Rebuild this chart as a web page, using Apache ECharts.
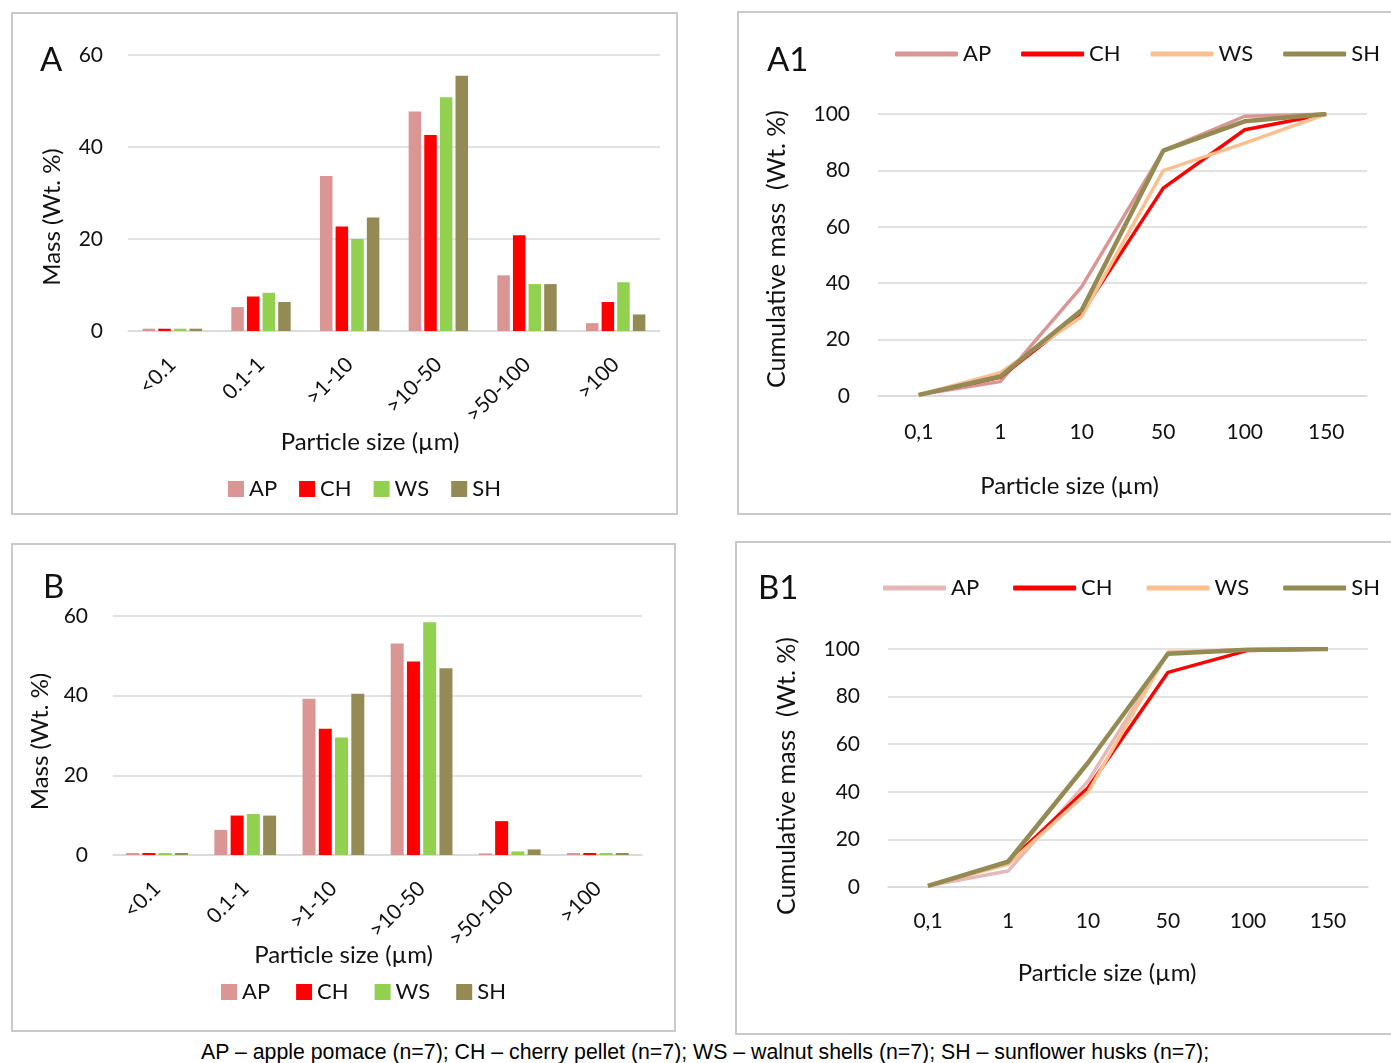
<!DOCTYPE html>
<html lang="en">
<head>
  <meta charset="utf-8">
  <style>
    html, body { margin: 0; padding: 0; width: 1391px; height: 1063px; overflow: hidden; background: #fff; }
    .panel { position: absolute; border: 2px solid #c9c9c9; background: #fff; }
    #caption { position: absolute; left: 201px; top: 1040px; font-family: "Liberation Sans", Arial, sans-serif; font-size: 21.3px; color: #000; white-space: nowrap; }
  </style>
</head>
<body>
  <div id="chartA" class="panel" style="left: 11px; top: 12px; width: 663px; height: 499px;"></div>
  <div id="chartA1" class="panel" style="left: 737px; top: 11px; width: 660px; height: 500px;"></div>
  <div id="chartB" class="panel" style="left: 11px; top: 543px; width: 661px; height: 485px;"></div>
  <div id="chartB1" class="panel" style="left: 735px; top: 541px; width: 660px; height: 490px;"></div>
  <div id="caption">AP – apple pomace (n=7); CH – cherry pellet (n=7); WS – walnut shells (n=7); SH – sunflower husks (n=7);</div>

  <script type="text/javascript" src="https://cdn.jsdelivr.net/npm/echarts@6/dist/echarts.min.js"></script>
  <script type="text/javascript">
    // size classes for the bar charts, particle sizes for the cumulative curves
    var sizeClasses = ['<0.1', '0.1-1', '>1-10', '>10-50', '>50-100', '>100'];
    var sizeTicks = ['0,1', '1', '10', '50', '100', '150'];
    var seriesNames = ['AP', 'CH', 'WS', 'SH'];

    // panel A, mass per size class (wt. %)
    var apA = [0.5, 5.2, 33.7, 47.7, 12.1, 1.7];
    var chA = [0.5, 7.5, 22.7, 42.6, 20.8, 6.3];
    var wsA = [0.5, 8.3, 20.0, 50.8, 10.2, 10.6];
    var shA = [0.5, 6.3, 24.7, 55.5, 10.2, 3.6];

    // panel B
    var apB = [0.5, 6.3, 39.2, 53.1, 0.4, 0.5];
    var chB = [0.5, 9.9, 31.7, 48.6, 8.5, 0.5];
    var wsB = [0.5, 10.3, 29.5, 58.4, 0.9, 0.5];
    var shB = [0.5, 9.9, 40.5, 46.9, 1.4, 0.5];

    // panel A1, cumulative mass (wt. %)
    var apA1 = [0.4, 5.1, 38.8, 87.0, 99.2, 100];
    var chA1 = [0.4, 6.6, 29.3, 73.7, 94.4, 100];
    var wsA1 = [0.4, 8.3, 28.2, 79.9, 89.7, 100];
    var shA1 = [0.4, 6.9, 30.5, 87.0, 97.4, 100];

    // panel B1
    var apB1 = [0.5, 6.7, 44.5, 98.6, 99.7, 100];
    var chB1 = [0.5, 10.2, 41.7, 90.2, 99.4, 100];
    var wsB1 = [0.5, 9.5, 39.9, 98.6, 99.7, 100];
    var shB1 = [0.5, 10.6, 52.2, 98.0, 99.7, 100];

    var FONT = 'Lato';
    var TXT = '#111';
    var barColors = ['#d99694', '#ff0000', '#92d050', '#948a54'];

    function barOption(p) {
      return {
        animation: false,
        textStyle: { fontFamily: FONT },
        title: { text: p.letter, left: p.letterLeft, top: p.letterTop, padding: 0,
          textStyle: { fontFamily: FONT, fontSize: 33, fontWeight: 'normal', color: TXT } },
        legend: {
          left: p.legendLeft, top: p.legendTop, itemWidth: 16, itemHeight: 16, itemGap: p.legendGap,
          icon: 'rect', data: seriesNames,
          textStyle: { fontFamily: FONT, fontSize: 22, color: TXT }
        },
        grid: p.grid,
        xAxis: {
          type: 'category', data: sizeClasses,
          name: 'Particle size (µm)', nameLocation: 'middle', nameGap: p.xNameGap,
          nameMoveOverlap: false,
          nameTextStyle: { fontFamily: FONT, fontSize: 24, color: TXT, padding: p.xNamePad },
          axisLine: { lineStyle: { color: '#d9d9d9', width: 1.5 } },
          axisTick: { show: false },
          axisLabel: { rotate: 45, margin: 30, fontFamily: FONT, fontSize: 21, color: TXT }
        },
        yAxis: {
          type: 'value', min: 0, max: 60, interval: 20,
          name: 'Mass (Wt. %)', nameLocation: 'middle', nameGap: p.yNameGap, nameRotate: 90,
          nameTextStyle: { fontFamily: FONT, fontSize: 24, color: TXT, padding: p.yNamePad },
          axisLine: { show: false }, axisTick: { show: false },
          axisLabel: { margin: 25, fontFamily: FONT, fontSize: 21, color: TXT },
          splitLine: { lineStyle: { color: '#d9d9d9', width: 1.5 } }
        },
        series: p.values.map(function (vals, i) {
          return {
            type: 'bar', name: seriesNames[i], data: vals,
            barWidth: p.barWidth, barGap: '25%',
            itemStyle: { color: barColors[i] }
          };
        })
      };
    }

    function lineOption(p) {
      return {
        animation: false,
        textStyle: { fontFamily: FONT },
        title: { text: p.letter, left: p.letterLeft, top: p.letterTop, padding: 0,
          textStyle: { fontFamily: FONT, fontSize: 33, fontWeight: 'normal', color: TXT } },
        legend: {
          left: p.legendLeft, top: p.legendTop, itemWidth: 63, itemHeight: 5, itemGap: p.legendGap,
          icon: 'roundRect', data: seriesNames,
          textStyle: { fontFamily: FONT, fontSize: 22, color: TXT }
        },
        grid: p.grid,
        xAxis: {
          type: 'category', data: sizeTicks,
          name: 'Particle size (µm)', nameLocation: 'middle', nameGap: p.xNameGap,
          nameMoveOverlap: false,
          nameTextStyle: { fontFamily: FONT, fontSize: 24, color: TXT, padding: p.xNamePad },
          axisLine: { lineStyle: { color: '#d9d9d9', width: 1.5 } },
          axisTick: { show: false },
          axisLabel: { margin: p.xLabelMargin, fontFamily: FONT, fontSize: 21, color: TXT }
        },
        yAxis: {
          type: 'value', min: 0, max: 100, interval: 20,
          name: 'Cumulative mass  (Wt. %)', nameLocation: 'middle', nameGap: p.yNameGap, nameRotate: 90,
          nameTextStyle: { fontFamily: FONT, fontSize: 25, color: TXT, padding: p.yNamePad },
          axisLine: { show: false }, axisTick: { show: false },
          axisLabel: { margin: 28, fontFamily: FONT, fontSize: 21, color: TXT },
          splitLine: { lineStyle: { color: '#d9d9d9', width: 1.5 } }
        },
        series: p.values.map(function (vals, i) {
          return {
            type: 'line', name: seriesNames[i], data: vals,
            symbol: 'none', z: i === 3 ? 5 : 2,
            lineStyle: { color: p.colors[i], width: i === 3 ? 4.5 : 3.5 },
            itemStyle: { color: p.colors[i] }
          };
        })
      };
    }

    var chartA = echarts.init(document.getElementById('chartA'));
    chartA.setOption(barOption({
      letter: 'A', letterLeft: 27, letterTop: 30,
      grid: { left: 115, top: 41, width: 532, height: 276 },
      legendLeft: 210, legendTop: 459, legendGap: 22,
      xNameGap: 99, xNamePad: [0, 48, 0, 0],
      yNameGap: 64, yNamePad: [0, 48, 0, 0],
      barWidth: 12.5,
      values: [apA, chA, wsA, shA]
    }));

    var chartB = echarts.init(document.getElementById('chartB'));
    chartB.setOption(barOption({
      letter: 'B', letterLeft: 30, letterTop: 26,
      grid: { left: 100, top: 71, width: 529, height: 239 },
      legendLeft: 203, legendTop: 431, legendGap: 26,
      xNameGap: 88, xNamePad: [0, 68, 0, 0],
      yNameGap: 57, yNamePad: [0, 12, 0, 0],
      barWidth: 13,
      values: [apB, chB, wsB, shB]
    }));

    var chartA1 = echarts.init(document.getElementById('chartA1'));
    chartA1.setOption(lineOption({
      letter: 'A1', letterLeft: 28, letterTop: 31,
      grid: { left: 139, top: 101, width: 489, height: 282 },
      legendLeft: 151, legendTop: 25, legendGap: 30,
      xNameGap: 78, xNamePad: [0, 106, 0, 0], xLabelMargin: 26,
      yNameGap: 89, yNamePad: [0, 0, 0, 12],
      colors: ['#d99694', '#ff0000', '#fac090', '#948a54'],
      values: [apA1, chA1, wsA1, shA1]
    }));

    var chartB1 = echarts.init(document.getElementById('chartB1'));
    chartB1.setOption(lineOption({
      letter: 'B1', letterLeft: 21, letterTop: 29,
      grid: { left: 151, top: 106, width: 480, height: 238 },
      legendLeft: 141, legendTop: 29, legendGap: 34,
      xNameGap: 74, xNamePad: [0, 42, 0, 0], xLabelMargin: 24,
      yNameGap: 89, yNamePad: [0, 16, 0, 0],
      colors: ['#e6b9b8', '#ff0000', '#fac090', '#948a54'],
      values: [apB1, chB1, wsB1, shB1]
    }));
  </script>
</body>
</html>
